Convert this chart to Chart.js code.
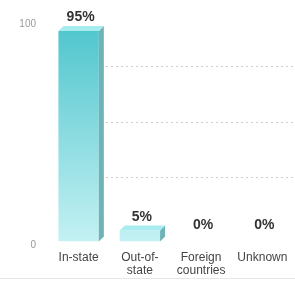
<!DOCTYPE html>
<html>
<head>
<meta charset="utf-8">
<script src="https://cdn.jsdelivr.net/npm/chart.js@4.4.1/dist/chart.umd.min.js"></script>
<style>
  html, body { margin: 0; padding: 0; background: #fff; }
  #wrap { width: 295px; height: 282px; position: relative; }
</style>
</head>
<body>
<div id="wrap"><canvas id="barChart"></canvas></div>
<script>
let categories = [['In-state'], ['Out-of-', 'state'], ['Foreign', 'countries'], ['Unknown']];
let percentValues = [95, 5, 0, 0];
let yTickLabels = [0, 100];

var depth = 5;

// side + top faces, fake 3d look
var bar3d = {
    id: 'bar3d',
    afterDatasetsDraw: function(chart) {
        var ctx = chart.ctx;
        var meta = chart.getDatasetMeta(0);
        meta.data.forEach(function(bar, i) {
            var half = bar.width / 2;
            var left = bar.x - half, right = bar.x + half;
            var top = bar.y, base = bar.base;
            var hasBar = base - top > 0.5;
            if (hasBar) {
                ctx.save();
                ctx.fillStyle = '#6fb3b8';
                ctx.beginPath();
                ctx.moveTo(right, top);
                ctx.lineTo(right + depth, top - depth);
                ctx.lineTo(right + depth, base - depth);
                ctx.lineTo(right, base);
                ctx.closePath();
                ctx.fill();
                ctx.fillStyle = '#a9ecef';
                ctx.beginPath();
                ctx.moveTo(left, top);
                ctx.lineTo(left + depth, top - depth);
                ctx.lineTo(right + depth, top - depth);
                ctx.lineTo(right, top);
                ctx.closePath();
                ctx.fill();
                ctx.restore();
            }
            ctx.save();
            ctx.font = 'bold 14px "Liberation Sans", Arial, sans-serif';
            ctx.fillStyle = '#333';
            ctx.textAlign = 'center';
            ctx.textBaseline = 'alphabetic';
            ctx.fillText(percentValues[i] + '%', bar.x + 2, hasBar ? top - 10 : base - 13);
            ctx.restore();
        });
    }
};

// dotted back grid lines
var backGrid = {
    id: 'backGrid',
    beforeDatasetsDraw: function(chart) {
        var ctx = chart.ctx;
        var y = chart.scales.y;
        var area = chart.chartArea;
        ctx.save();
        ctx.strokeStyle = '#cfcfcf';
        ctx.setLineDash([2, 3]);
        ctx.lineWidth = 1;
        [25, 50, 75].forEach(function(v) {
            var py = Math.round(y.getPixelForValue(v) - 9) + 0.5;
            ctx.beginPath();
            ctx.moveTo(area.left + 58, py);
            ctx.lineTo(area.right, py);
            ctx.stroke();
        });
        ctx.setLineDash([]);
        ctx.strokeStyle = '#e6e6e6';
        ctx.beginPath();
        ctx.moveTo(0, 278.5);
        ctx.lineTo(295, 278.5);
        ctx.stroke();
        ctx.restore();
    }
};

var ctx = document.getElementById('barChart').getContext('2d');

var barChart = new Chart(ctx, {
    type: 'bar',
    data: {
        labels: categories,
        datasets: [{
            data: percentValues,
            backgroundColor: function(context) {
                var area = context.chart.chartArea;
                if (!area) return '#5ccfd6';
                var g = context.chart.ctx.createLinearGradient(0, area.top, 0, area.bottom);
                g.addColorStop(0, '#4cc4cc');
                g.addColorStop(1, '#c4f1f3');
                return g;
            },
            borderWidth: 0,
            barPercentage: 0.66,
            categoryPercentage: 1
        }]
    },
    options: {
        responsive: true,
        maintainAspectRatio: false,
        animation: false,
        layout: { padding: { top: 20, right: 2, bottom: 4, left: 0 } },
        plugins: {
            legend: { display: false },
            tooltip: { enabled: false }
        },
        scales: {
            x: {
                grid: { display: false },
                border: { display: false },
                ticks: {
                    color: '#444',
                    font: { family: '"Liberation Sans", Arial, sans-serif', size: 12, lineHeight: 1.1 },
                    padding: 1,
                    maxRotation: 0
                }
            },
            y: {
                min: 0,
                max: 100,
                grid: { display: false },
                border: { display: false },
                afterBuildTicks: function(scale) {
                    scale.ticks = yTickLabels.map(function(v) { return { value: v }; });
                },
                afterFit: function(scale) { scale.width = 48; },
                ticks: {
                    color: '#999',
                    font: { family: '"Liberation Sans", Arial, sans-serif', size: 10 },
                    padding: 4,
                    labelOffset: 4
                }
            }
        }
    },
    plugins: [backGrid, bar3d]
});
</script>
</body>
</html>
